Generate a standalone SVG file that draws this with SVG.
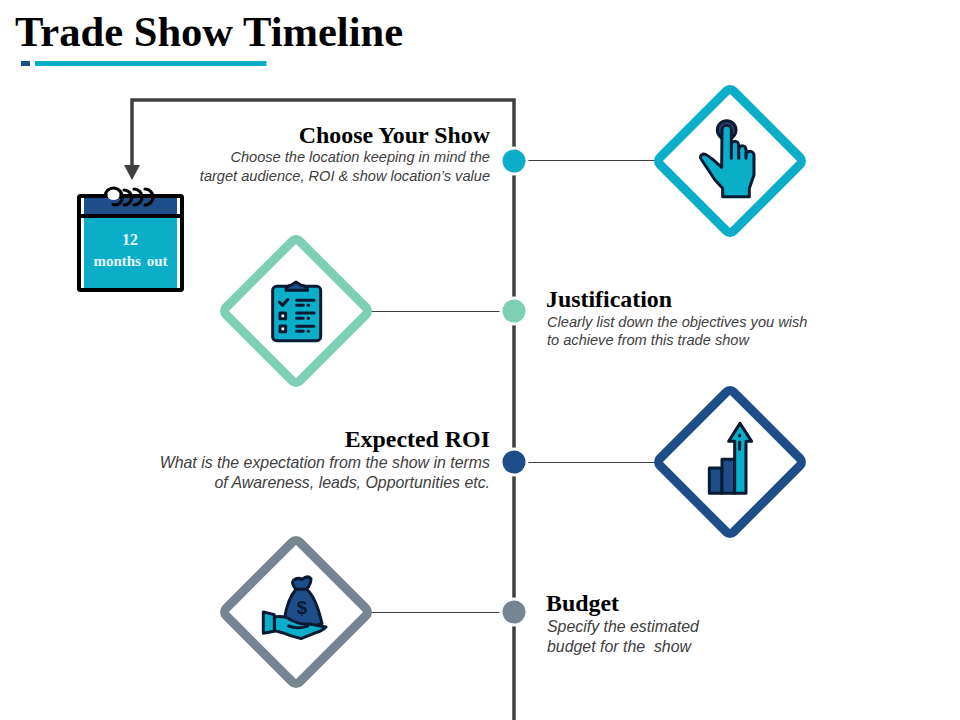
<svg xmlns="http://www.w3.org/2000/svg" width="960" height="720" viewBox="0 0 960 720">
<style>
.h{font-family:"Liberation Serif","Times New Roman",serif;font-weight:700;font-size:23.900px;fill:#000}
.b{font-family:"Liberation Sans",Arial,sans-serif;font-style:italic;font-size:14.600px;fill:#404040}
.b2{font-family:"Liberation Sans",Arial,sans-serif;font-style:italic;font-size:15.900px;fill:#404040}
.e{text-anchor:end}
.d{fill:#fff;stroke-width:9}
.dot{stroke:#fff;stroke-width:3}
.i{stroke:#0b1a33;stroke-width:9;stroke-linejoin:round;stroke-linecap:round}
.c{fill:none;stroke:#404040;stroke-width:1}
.tl{fill:#0baec8}.nv{fill:#1d4e89}
</style>
<defs>
<rect id="dm" x="-52" y="-52" width="104" height="104" rx="5" transform="rotate(45)"/>
</defs>
<rect width="960" height="720" fill="#fff"/>
<text x="15" y="46" font-family="Liberation Serif,serif" font-weight="700" font-size="42.600" fill="#000">Trade Show Timeline</text>
<rect x="21" y="61" width="9" height="5" fill="#1d4e89"/>
<rect x="35" y="61" width="231.500" height="5" fill="#0baec8"/>
<g id="connectors">
<path d="M514 720V100H132V166" fill="none" stroke="#404040" stroke-width="3.500"/>
<path d="M124 165H140L132 180Z" fill="#404040"/>
<path class="c" d="M527 160.500H656M371 311.500H501M527 462.500H656M371 612.500H501"/>
</g>
<g id="calendar">
<rect x="84" y="197" width="93" height="19" fill="#1d4e89"/>
<rect x="84" y="216" width="93" height="73" fill="#0baec8"/>
<rect x="79" y="196" width="103" height="94" rx="1.500" fill="none" stroke="#000" stroke-width="4"/>
<path d="M79 216H182" stroke="#000" stroke-width="4"/>
<ellipse cx="113.500" cy="195.500" rx="6" ry="4.500" fill="#fff"/>
<path d="M105 196A8.500 8.500 0 0 1 122 197A7 7 0 0 1 113 204.500M124 190A7.500 7.500 0 0 1 124 205M134 189A8 8 0 0 1 134 205M145 189A8 8 0 0 1 145 205" fill="none" stroke="#000" stroke-width="3.200" stroke-linecap="round"/>
<text x="130" y="245" text-anchor="middle" font-family="Liberation Serif,serif" font-weight="700" font-size="16" fill="#e6fbff">12</text>
<text x="130.500" y="266" text-anchor="middle" font-family="Liberation Serif,serif" font-weight="700" font-size="15" fill="#e6fbff" word-spacing="2">months out</text>
</g>
<g id="node-choose">
<circle class="dot" cx="514" cy="161" r="13" fill="#0baec8"/>
<text class="h e" x="490" y="143">Choose Your Show</text>
<text class="b e" x="490" y="162">Choose the location keeping in mind the</text>
<text class="b e" x="490" y="181">target audience, ROI &amp; show location’s value</text>
<use href="#dm" x="730" y="161" class="d" stroke="#0baec8"/>
<g transform="translate(650 80) scale(.3333)">
<circle cx="230" cy="150" r="28" fill="#2f3f78" class="i"/>
<path class="i tl" d="M216 150A14 14 0 0 1 244 150V195A11 11 0 0 1 266 195V208A11 11 0 0 1 288 208V226A12 12 0 0 1 312 226V285L298 325V350H218V325L195 300L155 240Q145 228 160 222Q170 220 215 262Z"/>
<path class="i" fill="none" d="M244 195V235M266 208V235M288 226V235"/>
</g>
</g>
<g id="node-justification">
<circle class="dot" cx="514" cy="311" r="13" fill="#7dcfb6"/>
<text class="h" x="546" y="307">Justification</text>
<text class="b" x="547" y="327">Clearly list down the objectives you wish</text>
<text class="b" x="547" y="345">to achieve from this trade show</text>
<use href="#dm" x="296" y="311" class="d" stroke="#7dcfb6"/>
<g transform="translate(216 232) scale(.3333)">
<rect x="170" y="163" width="144" height="163" rx="12" class="i tl"/>
<path class="i nv" d="M210 175Q210 163 225 160L240 150L255 160Q275 163 275 175Z"/>
<path class="i" fill="none" d="M190 210L200 220L216 202M242 205H294M242 220H262M276 220H278M242 243H294M242 259H262M276 259H278M242 283H294M242 298H262M276 298H278"/>
<rect x="192" y="243" width="17" height="17" fill="#fff" class="i"/>
<rect x="192" y="282" width="17" height="17" fill="#fff" class="i"/>
</g>
</g>
<g id="node-roi">
<circle class="dot" cx="514" cy="462" r="13" fill="#1d4e89"/>
<text class="h e" x="490" y="447">Expected ROI</text>
<text class="b2 e" x="490" y="468">What is the expectation from the show in terms</text>
<text class="b2 e" x="490" y="488">of Awareness, leads, Opportunities etc.</text>
<use href="#dm" x="730" y="462" class="d" stroke="#1d4e89"/>
<g transform="translate(650 382) scale(.3333)">
<rect x="178" y="258" width="38" height="76" class="i nv"/>
<rect x="216" y="232" width="38" height="102" class="i nv"/>
<path class="i tl" d="M254 334V178H236L270 124L305 178H288V334Z"/>
<path class="i" fill="none" d="M269 180V202M269 160V162"/>
</g>
</g>
<g id="node-budget">
<circle class="dot" cx="514" cy="612" r="13" fill="#768591"/>
<text class="h" x="546" y="611">Budget</text>
<text class="b2" x="547" y="632">Specify the estimated</text>
<text class="b2" x="547" y="652" xml:space="preserve">budget for the  show</text>
<use href="#dm" x="296" y="612" class="d" stroke="#768591"/>
<g transform="translate(216 532) scale(.3333)">
<path class="i nv" d="M240 172Q225 155 232 145Q245 135 258 142Q275 128 285 140Q285 155 272 172Q300 195 318 275L260 290L205 262Q215 200 240 172Z"/>
<path class="i" fill="none" d="M240 172H272"/>
<text x="258" y="246" text-anchor="middle" font-family="Liberation Sans,sans-serif" font-weight="700" font-size="56" fill="#0b1a33">$</text>
<path class="i tl" d="M175 255Q205 250 225 264Q250 278 280 276L330 285Q320 296 300 302L255 320Q225 312 205 304L175 296Z"/>
<path class="i tl" d="M142 240L175 248V298L142 304Z"/>
<path class="i" fill="none" d="M218 282Q245 292 275 282"/>
</g>
</g>
</svg>
